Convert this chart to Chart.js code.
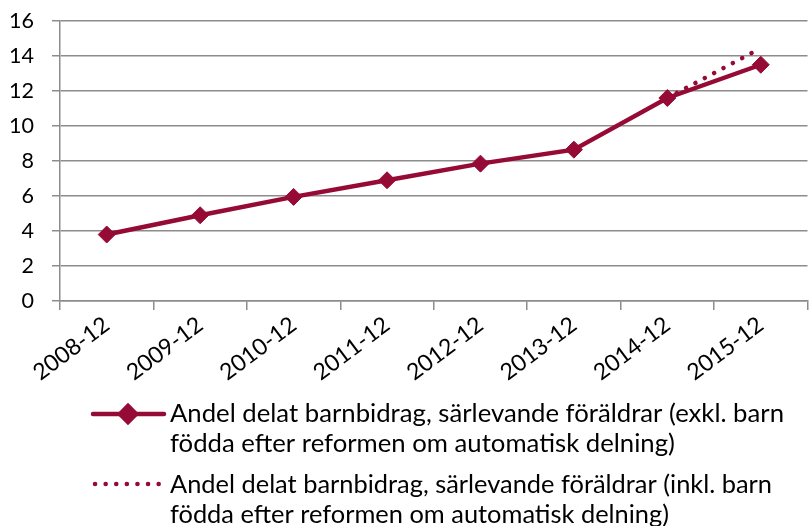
<!DOCTYPE html>
<html>
<head>
<meta charset="utf-8">
<script src="https://cdn.jsdelivr.net/npm/chart.js@4/dist/chart.umd.min.js"></script>
<style>
html,body{margin:0;padding:0;background:#fff;overflow:hidden;width:809px;height:526px;}
canvas{display:block;}
</style>
</head>
<body>
<canvas id="c" width="817" height="526"></canvas>
<script>
const categories = ['2008-12','2009-12','2010-12','2011-12','2012-12','2013-12','2014-12','2015-12'];
const exklValues = [3.8, 4.9, 5.95, 6.9, 7.85, 8.65, 11.6, 13.5];
const inklValues = [null, null, null, null, null, null, 11.6, 14.45];
const exklLabel = ['Andel delat barnbidrag, särlevande föräldrar (exkl. barn', 'födda efter reformen om automatisk delning)'];
const inklLabel = ['Andel delat barnbidrag, särlevande föräldrar (inkl. barn', 'födda efter reformen om automatisk delning)'];
const yMin = 0, yMax = 16, yStep = 2;

const RED = '#960b35';
const GRID = '#8c8c8c';
const FONT = 'Lato';

const legendPlugin = {
  id: 'customLegend',
  afterDraw(chart) {
    const ctx = chart.ctx;
    ctx.save();
    ctx.font = '25px ' + FONT;
    ctx.textBaseline = 'alphabetic';
    ctx.textAlign = 'left';
    const items = [
      {lines: exklLabel, sym: 414, base: 422, w: 614},
      {lines: inklLabel, sym: 484, base: 493, w: 602}
    ];
    items.forEach((it, i) => {
      ctx.strokeStyle = RED;
      ctx.fillStyle = RED;
      ctx.lineWidth = 4.5;
      ctx.lineCap = 'round';
      if (i === 0) {
        ctx.setLineDash([]);
        ctx.beginPath(); ctx.moveTo(93, it.sym); ctx.lineTo(164, it.sym); ctx.stroke();
        Chart.helpers.drawPoint(ctx, {pointStyle: 'rectRot', radius: 8, borderWidth: 1}, 128, it.sym);
        ctx.fill();
      } else {
        ctx.setLineDash([0.1, 10.5]);
        ctx.beginPath(); ctx.moveTo(95, it.sym); ctx.lineTo(160, it.sym); ctx.stroke();
        ctx.setLineDash([]);
      }
      ctx.fillStyle = '#000';
      const sx = it.w / ctx.measureText(it.lines[0]).width;
      it.lines.forEach((t, k) => {
        ctx.save();
        ctx.translate(170, it.base + k * 30);
        ctx.scale(sx, 1);
        ctx.fillText(t, 0, 0);
        ctx.restore();
      });
    });
    ctx.restore();
  }
};

new Chart(document.getElementById('c'), {
  type: 'line',
  data: {
    labels: categories,
    datasets: [
      {
        label: exklLabel.join(' '),
        data: exklValues,
        borderColor: RED,
        backgroundColor: RED,
        borderWidth: 4.5,
        pointStyle: 'rectRot',
        pointRadius: 8.5,
        pointBorderWidth: 1,
        pointBackgroundColor: RED,
        pointBorderColor: RED,
        tension: 0,
        order: 1
      },
      {
        label: inklLabel.join(' '),
        data: inklValues,
        borderColor: RED,
        backgroundColor: RED,
        borderWidth: 4.5,
        borderDash: [0.1, 10.5],
        borderCapStyle: 'round',
        pointRadius: 0,
        tension: 0,
        order: 2
      }
    ]
  },
  options: {
    responsive: false,
    animation: false,
    layout: {padding: {top: 0, bottom: 135, left: 0, right: 0}},
    plugins: {legend: {display: false}, tooltip: {enabled: false}},
    scales: {
      x: {
        offset: true,
        grid: {display: true, drawOnChartArea: false, color: GRID, lineWidth: 1.5, tickLength: 9, offset: true},
        border: {color: GRID, width: 1.5},
        ticks: {color: '#000', font: {family: FONT, size: 23}, minRotation: 37, maxRotation: 37, padding: 1},
        afterFit(scale) { scale.height = 90; }
      },
      y: {
        min: yMin, max: yMax,
        ticks: {stepSize: yStep, color: '#000', font: {family: FONT, size: 21.5}, padding: 18},
        grid: {color: GRID, lineWidth: 1.5, tickLength: 8},
        border: {color: GRID, width: 1.5},
        afterFit(scale) { scale.width = 60; scale.paddingTop = 21; scale.paddingBottom = 10; }
      }
    }
  },
  plugins: [legendPlugin]
});
</script>
</body>
</html>
